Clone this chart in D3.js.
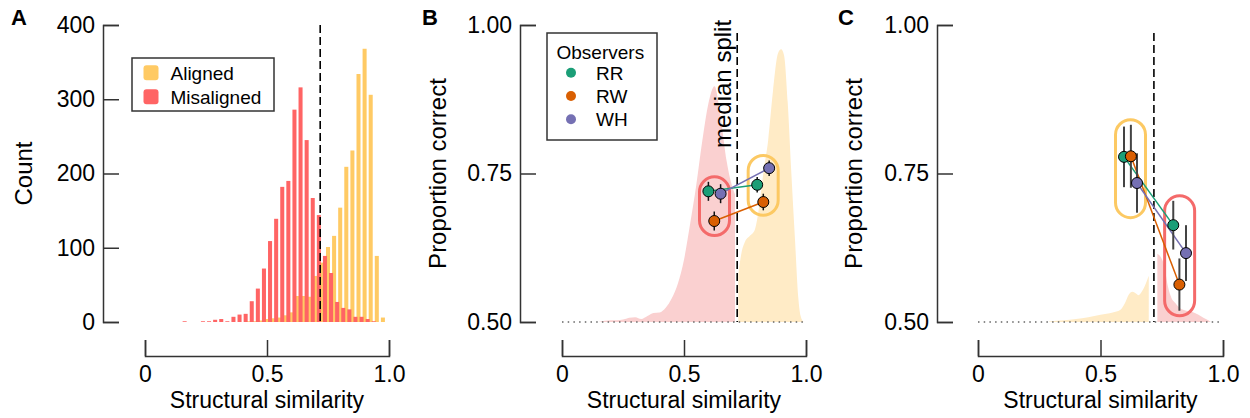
<!DOCTYPE html>
<html>
<head>
<meta charset="utf-8">
<script src="https://d3js.org/d3.v7.min.js"></script>
<style>
  body { margin: 0; background: #fff; }
  svg { font-family: "Liberation Sans", Arial, Helvetica, sans-serif; }
  .axis path, .axis line { stroke: #333; stroke-width: 1.5px; }
  .axis text { font-size: 23px; fill: #000; }
  .label { font-size: 24px; fill: #000; }
  .letter { font-size: 22px; font-weight: bold; fill: #000; }
</style>
</head>
<body>
<div id="chart"></div>
<script>
// ---------- data ----------
var binWidth = 0.025;
var medianSplit = 0.718;

// panel A histogram (bin centres, counts)
var misalignedBins = [0.1625,0.1875,0.2125,0.2375,0.2625,0.2875,0.3125,0.3375,0.3625,0.3875,0.4125,0.4375,0.4625,0.4875,0.5125,0.5375,0.5625,0.5875,0.6125,0.6375,0.6625,0.6875,0.7125,0.7375,0.7625,0.7875,0.8125,0.8375,0.8625,0.8875,0.9125,0.9375];
var misalignedCounts = [1,0,0,1,1,3,4,1,7,10,11,28,45,72,109,139,182,190,286,316,245,167,144,89,66,27,19,17,7,7,4,1];
var alignedBins = [0.425,0.45,0.475,0.5,0.525,0.55,0.575,0.6,0.625,0.65,0.675,0.7,0.725,0.75,0.775,0.8,0.825,0.85,0.875,0.9,0.925,0.95,0.975];
var alignedCounts = [1,1,2,4,5,6,9,13,35,35,34,62,80,101,116,154,209,231,334,368,306,89,6];

var countTicks = [0,100,200,300,400];
var propTicks = [0.5,0.75,1.0];
var simTicks = [0,0.5,1.0];

// panel B density outlines (in proportion-correct units)
var misDensBX = [0.15,0.175,0.2,0.225,0.25,0.275,0.3,0.325,0.35,0.375,0.4,0.425,0.45,0.475,0.5,0.525,0.55,0.575,0.6,0.625,0.65,0.675,0.7,0.709];
var misDensBY = [0.500,0.502,0.503,0.503,0.504,0.507,0.508,0.505,0.510,0.515,0.516,0.524,0.540,0.565,0.605,0.665,0.730,0.805,0.868,0.897,0.845,0.770,0.725,0.715];
var aliDensBX = [0.7225,0.735,0.75,0.77,0.79,0.81,0.825,0.845,0.865,0.885,0.898,0.91,0.925,0.94,0.955,0.968,0.978,0.99];
var aliDensBY = [0.58,0.615,0.635,0.645,0.655,0.70,0.75,0.806,0.89,0.952,0.959,0.949,0.87,0.75,0.638,0.543,0.51,0.5];

// panel C density outlines
var aliDensCX = [0.29,0.35,0.4,0.45,0.5,0.55,0.58,0.6,0.615,0.63,0.645,0.655,0.67,0.685,0.697];
var aliDensCY = [0.501,0.503,0.505,0.508,0.512,0.516,0.52,0.532,0.546,0.551,0.548,0.545,0.552,0.565,0.578];
var misDensCX = [0.732,0.745,0.76,0.775,0.79,0.805,0.825,0.85,0.875,0.9,0.92,0.94,0.95];
var misDensCY = [0.615,0.61,0.595,0.56,0.54,0.532,0.523,0.519,0.517,0.512,0.507,0.503,0.5];

// observers
var observers = ["RR","RW","WH"];
var obsColors = ["#1b9e77","#d95f02","#7570b3"];

// panel B: mean similarity, proportion correct, error
var bMisX = [0.600,0.624,0.650], bMisY = [0.720,0.670,0.716], bMisErr = [0.016,0.016,0.016];
var bAliX = [0.800,0.825,0.849], bAliY = [0.731,0.702,0.759], bAliErr = [0.013,0.014,0.013];
// panel C
var cAliX = [0.596,0.624,0.649], cAliY = [0.778,0.779,0.734], cAliErr = [0.051,0.053,0.050];
var cMisX = [0.797,0.822,0.849], cMisY = [0.663,0.563,0.616], cMisErr = [0.041,0.044,0.047];

var red = "#ff6464", orange = "#ffca64";
var pink = "#fad0d0", cream = "#ffebc6";

// ---------- layout ----------
var svg = d3.select("#chart").append("svg")
    .attr("width", 1250).attr("height", 418);

var yTop = 25, yBot = 322, xAxisY = 356;

function xAxis(x) {
  var g = svg.append("g").attr("class", "axis")
      .attr("transform", "translate(0," + xAxisY + ")")
      .call(d3.axisBottom(x).tickValues(simTicks)
        .tickFormat(function(d) { return d === 0 ? "0" : d3.format(".1f")(d); })
        .tickSizeInner(-16).tickSizeOuter(-16).tickPadding(10));
  g.attr("font-size", null).attr("font-family", null);
  g.append("text").attr("class", "label")
      .attr("x", x(0.5)).attr("y", 52)
      .attr("text-anchor", "middle")
      .text("Structural similarity");
}

function yAxis(y, x0, ticks, fmt, title, titleX) {
  var g = svg.append("g").attr("class", "axis")
      .attr("transform", "translate(" + x0 + ",0)")
      .call(d3.axisLeft(y).tickValues(ticks).tickFormat(fmt)
        .tickSizeInner(-16).tickSizeOuter(-16).tickPadding(8));
  g.attr("font-size", null).attr("font-family", null);
  svg.append("text").attr("class", "label")
      .attr("transform", "translate(" + titleX + "," + ((yTop + yBot) / 2) + ") rotate(-90)")
      .attr("text-anchor", "middle")
      .text(title);
}

function medianLine(x, top) {
  svg.append("line")
      .attr("x1", x(medianSplit)).attr("x2", x(medianSplit))
      .attr("y1", top).attr("y2", yBot)
      .attr("stroke", "#000").attr("stroke-width", 1.6)
      .attr("stroke-dasharray", "8,4");
}

function density(x, y, xs, ys, fill) {
  var area = d3.area()
      .x(function(d) { return x(d[0]); })
      .y0(y(0.5))
      .y1(function(d) { return y(d[1]); })
      .curve(d3.curveMonotoneX);
  svg.append("path").datum(d3.zip(xs, ys))
      .attr("d", area).attr("fill", fill);
}

function chanceLine(x, y) {
  svg.append("line")
      .attr("x1", x(0)).attr("x2", x(1))
      .attr("y1", y(0.5)).attr("y2", y(0.5))
      .attr("stroke", "#666").attr("stroke-width", 1.5)
      .attr("stroke-dasharray", "1.5,4.2");
}

function capsule(x, y, xs, ys, errs, color) {
  var px = xs.map(x);
  var top = d3.min(ys, function(v, i) { return y(v + errs[i]); }) - 5;
  var bot = d3.max(ys, function(v, i) { return y(v - errs[i]); }) + 5;
  var cx = (d3.min(px) + d3.max(px)) / 2;
  svg.append("rect")
      .attr("x", cx - 15).attr("y", top)
      .attr("width", 30).attr("height", bot - top)
      .attr("rx", 15).attr("ry", 15)
      .attr("fill", "none").attr("stroke", color).attr("stroke-width", 3);
}

function observerPoints(x, y, x1, y1, e1, x2, y2, e2, barColor, barWidth) {
  var g = svg.append("g");
  observers.forEach(function(o, i) {
    g.append("line")
        .attr("x1", x(x1[i])).attr("y1", y(y1[i]))
        .attr("x2", x(x2[i])).attr("y2", y(y2[i]))
        .attr("stroke", obsColors[i]).attr("stroke-width", 1.5);
  });
  [[x1, y1, e1], [x2, y2, e2]].forEach(function(s) {
    observers.forEach(function(o, i) {
      g.append("line")
          .attr("x1", x(s[0][i])).attr("x2", x(s[0][i]))
          .attr("y1", y(s[1][i] - s[2][i])).attr("y2", y(s[1][i] + s[2][i]))
          .attr("stroke", barColor).attr("stroke-width", barWidth);
    });
  });
  [[x1, y1], [x2, y2]].forEach(function(s) {
    observers.forEach(function(o, i) {
      g.append("circle")
          .attr("cx", x(s[0][i])).attr("cy", y(s[1][i]))
          .attr("r", 5.5)
          .attr("fill", obsColors[i]).attr("stroke", "#000").attr("stroke-width", 1);
    });
  });
}

// ---------- panel A ----------
var xA = d3.scaleLinear().domain([0, 1]).range([145, 389]);
var yA = d3.scaleLinear().domain([0, 400]).range([yBot, yTop]);
var barW = binWidth * 0.66;

svg.append("g").selectAll("rect")
  .data(d3.zip(alignedBins, alignedCounts))
  .join("rect")
    .attr("x", function(d) { return xA(d[0] - barW / 2); })
    .attr("width", xA(barW) - xA(0))
    .attr("y", function(d) { return yA(d[1]); })
    .attr("height", function(d) { return yA(0) - yA(d[1]); })
    .attr("fill", orange);

svg.append("g").selectAll("rect")
  .data(d3.zip(misalignedBins, misalignedCounts))
  .join("rect")
    .attr("x", function(d) { return xA(d[0] - barW / 2); })
    .attr("width", xA(barW) - xA(0))
    .attr("y", function(d) { return yA(d[1]); })
    .attr("height", function(d) { return yA(0) - yA(d[1]); })
    .attr("fill", red);

medianLine(xA, 25);
xAxis(xA);
yAxis(yA, 103, countTicks, d3.format("d"), "Count", 32);

var legA = svg.append("g");
legA.append("rect").attr("x", 132).attr("y", 58).attr("width", 142).attr("height", 53)
    .attr("fill", "#fff").attr("stroke", "#333").attr("stroke-width", 1.5);
[["Aligned", orange, 72.7], ["Misaligned", red, 96.7]].forEach(function(d) {
  legA.append("rect").attr("x", 143.5).attr("y", d[2] - 7.5)
      .attr("width", 15).attr("height", 15).attr("rx", 3).attr("fill", d[1]);
  legA.append("text").attr("x", 170.5).attr("y", d[2]).attr("dy", "0.36em")
      .attr("font-size", 19).text(d[0]);
});

svg.append("text").attr("class", "letter").attr("x", 11).attr("y", 25).text("A");

// ---------- panel B ----------
var xB = d3.scaleLinear().domain([0, 1]).range([562, 806]);
var yB = d3.scaleLinear().domain([0.5, 1]).range([yBot, yTop]);

density(xB, yB, misDensBX, misDensBY, pink);
density(xB, yB, aliDensBX, aliDensBY, cream);
chanceLine(xB, yB);
medianLine(xB, 33);
svg.append("text").attr("class", "label")
    .attr("transform", "translate(" + (xB(medianSplit) - 6) + ",148) rotate(-90)")
    .text("median split");
xAxis(xB);
yAxis(yB, 520, propTicks, d3.format(".2f"), "Proportion correct", 446);
capsule(xB, yB, bMisX, bMisY, bMisErr, "#f46a6a");
capsule(xB, yB, bAliX, bAliY, bAliErr, "#fcc963");
observerPoints(xB, yB, bMisX, bMisY, bMisErr, bAliX, bAliY, bAliErr, "#111", 1.5);

var legB = svg.append("g");
legB.append("rect").attr("x", 547).attr("y", 33).attr("width", 110).attr("height", 107)
    .attr("fill", "#fff").attr("stroke", "#333").attr("stroke-width", 1.5);
legB.append("text").attr("x", 556.5).attr("y", 59).attr("font-size", 19).text("Observers");
observers.forEach(function(o, i) {
  var yy = 72.7 + i * 23.3;
  legB.append("circle").attr("cx", 571).attr("cy", yy).attr("r", 5).attr("fill", obsColors[i]);
  legB.append("text").attr("x", 596).attr("y", yy).attr("dy", "0.36em")
      .attr("font-size", 19).text(o);
});

svg.append("text").attr("class", "letter").attr("x", 422).attr("y", 25).text("B");

// ---------- panel C ----------
var xC = d3.scaleLinear().domain([0, 1]).range([978, 1223]);
var yC = d3.scaleLinear().domain([0.5, 1]).range([yBot, yTop]);

density(xC, yC, aliDensCX, aliDensCY, cream);
density(xC, yC, misDensCX, misDensCY, pink);
chanceLine(xC, yC);
medianLine(xC, 33);
xAxis(xC);
yAxis(yC, 937, propTicks, d3.format(".2f"), "Proportion correct", 862);
capsule(xC, yC, cAliX, cAliY, cAliErr, "#fcc963");
capsule(xC, yC, cMisX, cMisY, cMisErr, "#f46a6a");
observerPoints(xC, yC, cAliX, cAliY, cAliErr, cMisX, cMisY, cMisErr, "#444", 2);

svg.append("text").attr("class", "letter").attr("x", 838).attr("y", 25).text("C");
</script>
</body>
</html>
